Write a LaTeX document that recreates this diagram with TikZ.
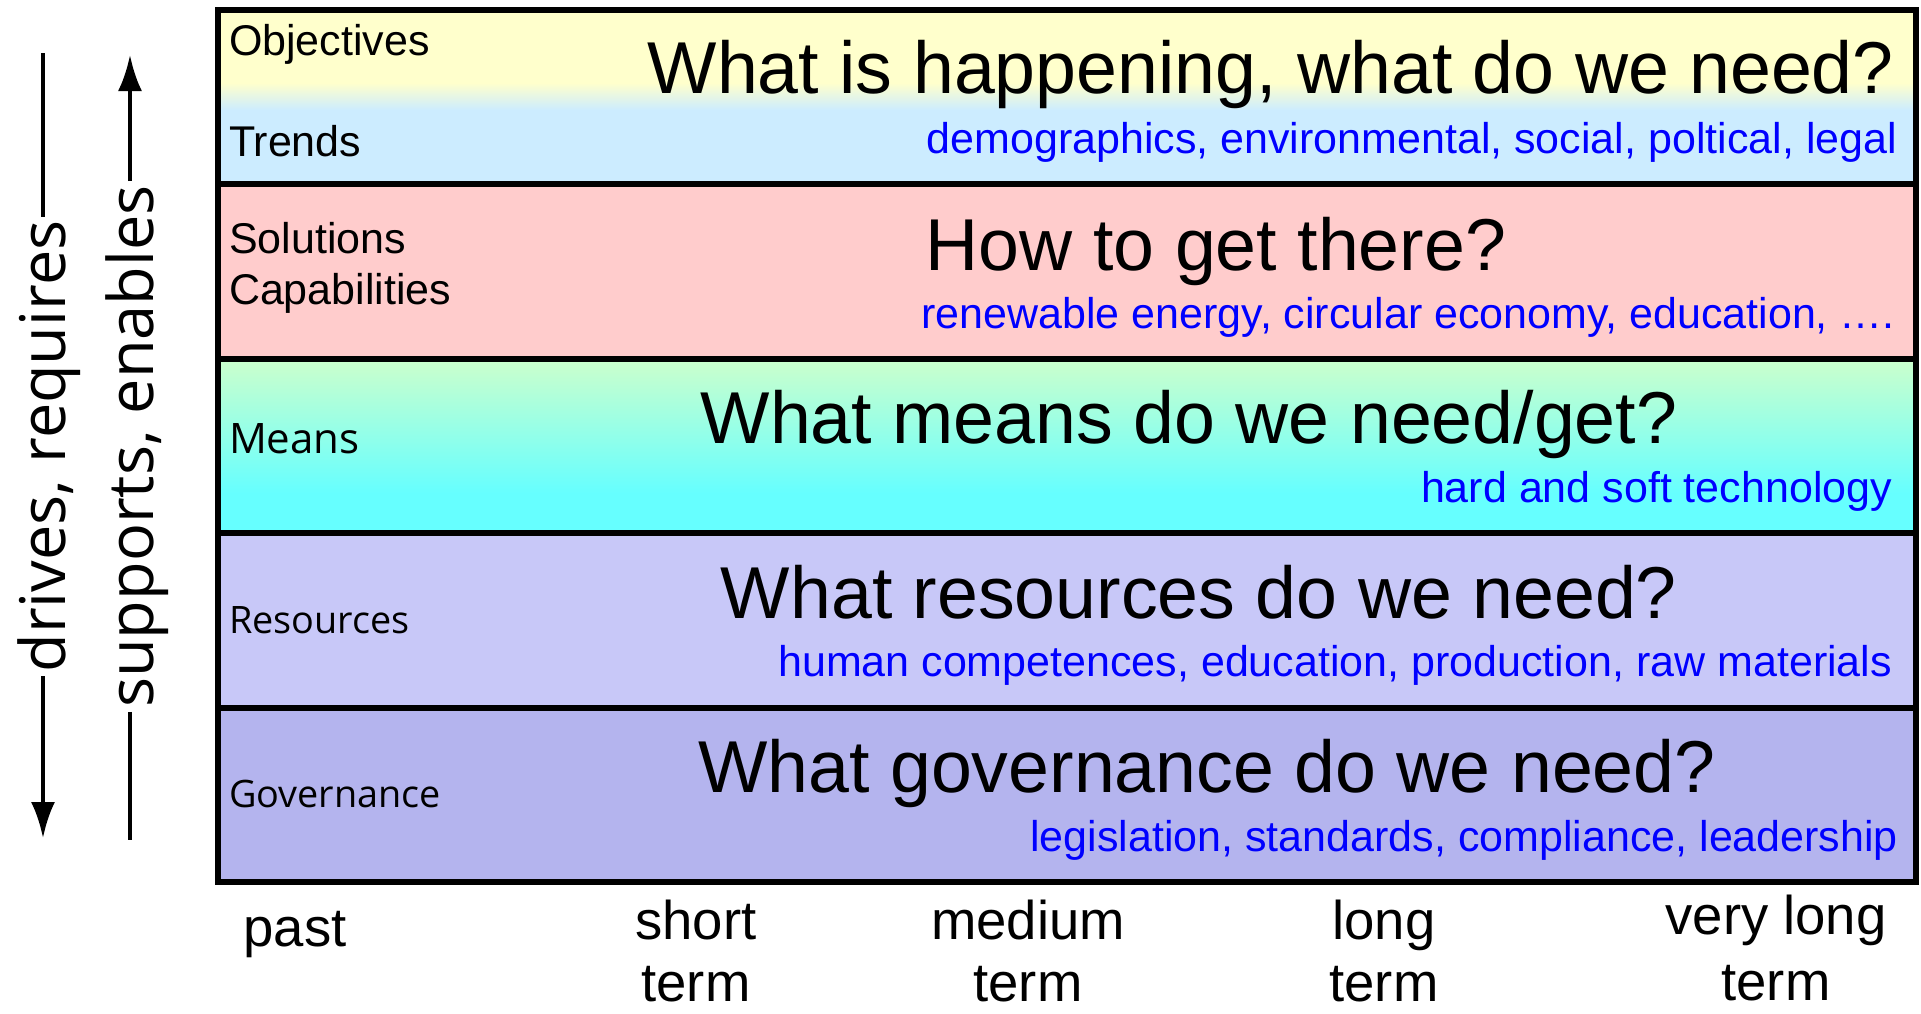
\documentclass[tikz,border=0pt]{standalone}
\usepackage{fontspec}
\setmainfont{Liberation Sans}
\newfontfamily\osans{Open Sans}
\usetikzlibrary{arrows.meta}
\definecolor{cYellow}{RGB}{255,255,204}
\definecolor{cLightBlue}{RGB}{204,236,255}
\definecolor{cPink}{RGB}{255,204,204}
\definecolor{cGreen}{RGB}{204,255,204}
\definecolor{cCyan}{RGB}{102,255,255}
\definecolor{cLav}{RGB}{200,200,248}
\definecolor{cGov}{RGB}{180,180,238}
\definecolor{cBlueText}{RGB}{0,0,255}
\begin{document}
\begin{tikzpicture}[x=1pt,y=-1pt,
 every node/.style={inner sep=0pt, outer sep=0pt},
 heading/.style={font=\fontsize{73.5}{80}\selectfont, anchor=base},
 sub/.style={font=\fontsize{43}{48}\selectfont, text=cBlueText, anchor=base east},
 lbl/.style={font=\fontsize{43}{48}\selectfont, anchor=base west},
 olbl/.style={font=\osans\fontsize{#1}{48}\selectfont, anchor=base west},
 side/.style={font=\osans\fontsize{63}{70}\selectfont, rotate=90, anchor=base, inner xsep=4pt},
 time/.style={font=\fontsize{54.5}{#1}\selectfont, align=center, anchor=base},
 border/.style={line width=6pt},
 flow/.style={line width=4pt},
 tip/.style={-{Latex[length=36pt,width=24pt]}}
]
\useasboundingbox (0,0) rectangle (1921,1013);
% bands
\fill[cYellow] (218,10) rectangle (1916,83);
\shade[top color=cYellow, bottom color=cLightBlue] (218,83) rectangle (1916,110);
\fill[cLightBlue] (218,110) rectangle (1916,184.4);
\fill[cPink] (218,184.4) rectangle (1916,358.8);
\shade[top color=cGreen, bottom color=cCyan] (218,358.8) rectangle (1916,493);
\fill[cCyan] (218,493) rectangle (1916,533.2);
\fill[cLav] (218,533.2) rectangle (1916,707.6);
\fill[cGov] (218,707.6) rectangle (1916,882);
\draw[border] (218,10) rectangle (1916,882);
\foreach \y in {184.4,358.8,533.2,707.6} \draw[border] (218,\y) -- (1916,\y);
% row labels
\node[lbl] (obj) at (229,55) {Objectives};
\node[lbl] (trd) at (229,156) {Trends};
\node[lbl] (sol) at (229,253) {Solutions};
\node[lbl] (cap) at (229,304) {Capabilities};
\node[olbl=42] (mns) at (229,453) {Means};
\node[olbl=37.8] (res) at (229,633) {Resources};
\node[olbl=37.8] (gov) at (229,807) {Governance};
% headings
\node[heading, anchor=base east] (h1) at (1894,93) {What is happening, what do we need?};
\node[heading] (h2) at (1216,270) {How to get there?};
\node[heading] (h3) at (1189,443) {What means do we need/get?};
\node[heading] (h4) at (1199,618) {What resources do we need?};
\node[heading] (h5) at (1207,792) {What governance do we need?};
% blue details
\node[sub] (s1) at (1897,153) {demographics, environmental, social, poltical, legal};
\node[sub] (s2) at (1895,328) {renewable energy, circular economy, education, ….};
\node[sub] (s3) at (1892,502) {hard and soft technology};
\node[sub] (s4) at (1892,676) {human competences, education, production, raw materials};
\node[sub] (s5) at (1898,851) {legislation, standards, compliance, leadership};
% side arrows
\node[side] (drv) at (65,446.5) {drives, requires};
\node[side] (sup) at (153,446.5) {supports, enables};
\coordinate (dtop) at (43,53);
\coordinate (dbot) at (43,838);
\coordinate (stop) at (130,55);
\coordinate (sbot) at (130,840);
\draw[flow] (dtop) -- (dtop |- drv.mid east);
\draw[flow,tip] (dtop |- drv.mid west) -- (dbot);
\draw[flow,tip] (stop |- sup.mid east) -- (stop);
\draw[flow] (stop |- sup.mid west) -- (sbot);
% time axis labels
\node[time=62] (past) at (295,946) {past};
\node[time=62] (short) at (696,1001) {short\\term};
\node[time=62] (medium) at (1028,1001) {medium\\term};
\node[time=62] (long) at (1384,1001) {long\\term};
\node[time=66] (vlong) at (1776,1000) {very long\\term};
\end{tikzpicture}
\end{document}
